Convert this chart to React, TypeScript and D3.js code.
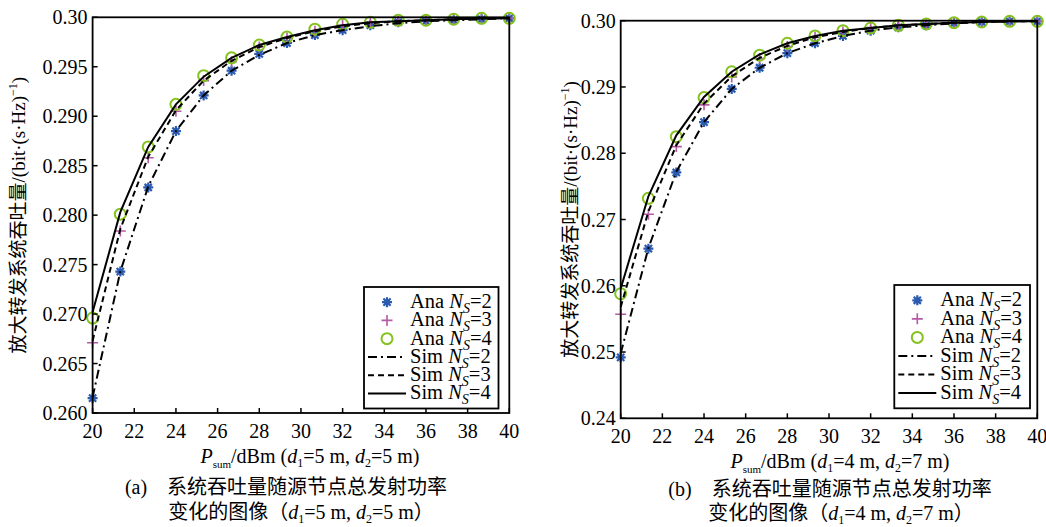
import React from "react";
import * as d3 from "d3";

// x positions of the computed points (P_sum, dBm)
const powerDbm = [20, 21.33, 22.67, 24, 25.33, 26.67, 28, 29.33, 30.67, 32, 33.33, 34.67, 36, 37.33, 38.67, 40];
const xTicks = [20, 22, 24, 26, 28, 30, 32, 34, 36, 38, 40];

// panel (a): d1=5 m, d2=5 m
const anaA2 = [0.2615, 0.2743, 0.2828, 0.2885, 0.2921, 0.2946, 0.2963, 0.2974, 0.2982, 0.2987, 0.2992, 0.2995, 0.2996, 0.2997, 0.2998, 0.2999];
const anaA3 = [0.2671, 0.2784, 0.2858, 0.2905, 0.2936, 0.2955, 0.297, 0.2979, 0.2986, 0.2992, 0.2995, 0.2996, 0.2997, 0.2998, 0.2999, 0.2999];
const anaA4 = [0.2696, 0.2801, 0.2869, 0.2912, 0.2941, 0.2959, 0.2972, 0.298, 0.2988, 0.2993, 0.2995, 0.2997, 0.2997, 0.2998, 0.2999, 0.2999];
const simA2 = [0.2616, 0.2743, 0.2829, 0.2885, 0.2921, 0.2946, 0.2962, 0.2974, 0.2982, 0.2987, 0.2991, 0.2994, 0.2996, 0.2997, 0.2998, 0.2999];
const simA3 = [0.2673, 0.2786, 0.2859, 0.2906, 0.2936, 0.2956, 0.297, 0.2979, 0.2986, 0.2991, 0.2994, 0.2996, 0.2997, 0.2998, 0.2999, 0.2999];
const simA4 = [0.2702, 0.2803, 0.2869, 0.2912, 0.294, 0.2959, 0.2972, 0.298, 0.2987, 0.2992, 0.2995, 0.2996, 0.2997, 0.2998, 0.2999, 0.2999];
const yTicksA = [0.26, 0.265, 0.27, 0.275, 0.28, 0.285, 0.29, 0.295, 0.3];
const yLabelsA = ["0.260", "0.265", "0.270", "0.275", "0.280", "0.285", "0.290", "0.295", "0.30"];

// panel (b): d1=4 m, d2=7 m
const anaB2 = [0.2492, 0.2656, 0.2771, 0.2847, 0.2897, 0.2929, 0.2951, 0.2966, 0.2977, 0.2985, 0.299, 0.2993, 0.2996, 0.2998, 0.2999, 0.2999];
const anaB3 = [0.2557, 0.2708, 0.281, 0.2873, 0.2915, 0.2943, 0.2961, 0.2975, 0.2983, 0.2989, 0.2993, 0.2995, 0.2997, 0.2998, 0.2999, 0.2999];
const anaB4 = [0.2588, 0.2732, 0.2825, 0.2884, 0.2923, 0.2948, 0.2966, 0.2977, 0.2985, 0.2989, 0.2993, 0.2995, 0.2997, 0.2998, 0.2999, 0.2999];
const simB2 = [0.2498, 0.2657, 0.2772, 0.2847, 0.2897, 0.2929, 0.2951, 0.2966, 0.2977, 0.2985, 0.299, 0.2993, 0.2996, 0.2998, 0.2999, 0.2999];
const simB3 = [0.2568, 0.2712, 0.2812, 0.2875, 0.2916, 0.2944, 0.2962, 0.2975, 0.2983, 0.2989, 0.2993, 0.2995, 0.2997, 0.2998, 0.2999, 0.2999];
const simB4 = [0.2596, 0.2735, 0.2827, 0.2885, 0.2923, 0.2949, 0.2966, 0.2977, 0.2985, 0.2989, 0.2993, 0.2995, 0.2997, 0.2998, 0.2999, 0.2999];
const yTicksB = [0.24, 0.25, 0.26, 0.27, 0.28, 0.29, 0.3];
const yLabelsB = ["0.24", "0.25", "0.26", "0.27", "0.28", "0.29", "0.30"];

const nsValues = ["2", "3", "4"];

const FONT = "'Liberation Serif', 'Times New Roman', 'Noto Sans CJK SC', serif";
const BLUE = "#2a5bb0";
const PINK = "#b45aa6";
const GREEN = "#84c21e";
const DASHES = ["9,4,2,4", "6,4", null];

function Marker({ kind, cx, cy }: { kind: number; cx: number; cy: number }) {
  if (kind === 0) {
    const r = 5, a = 3.6;
    return (
      <path
        d={`M${cx},${cy - r}L${cx},${cy + r}M${cx - r},${cy}L${cx + r},${cy}M${cx - a},${cy - a}L${cx + a},${cy + a}M${cx - a},${cy + a}L${cx + a},${cy - a}`}
        stroke={BLUE} strokeWidth={2.2} fill="none"
      />
    );
  }
  if (kind === 1) {
    const r = 5.5;
    return <path d={`M${cx},${cy - r}L${cx},${cy + r}M${cx - r},${cy}L${cx + r},${cy}`} stroke={PINK} strokeWidth={1.6} fill="none" />;
  }
  return <circle cx={cx} cy={cy} r={5.5} stroke={GREEN} strokeWidth={2} fill="none" />;
}

function Ns({ label, n }: { label: string; n: string }) {
  return (
    <>
      {label} <tspan fontStyle="italic">N</tspan>
      <tspan fontStyle="italic" fontSize={14} dy={5}>S</tspan>
      <tspan dy={-5}>={n}</tspan>
    </>
  );
}

type PanelProps = {
  left: number; right: number; top: number; bottom: number;
  yDomain: [number, number]; yTicks: number[]; yLabels: string[];
  ana: number[][]; sim: number[][];
  legend: { x0: number; y0: number; x1: number; y1: number };
  yTitleX: number; tag: string; d1: string; d2: string;
  titleCx: number; cap1Cx: number; cap2Cx: number; cap1Y: number; cap2Y: number;
};

function Panel(p: PanelProps) {
  const x = d3.scaleLinear().domain([20, 40]).range([p.left, p.right]);
  const y = d3.scaleLinear().domain(p.yDomain).range([p.bottom, p.top]);
  const line = d3.line<number>().x((_, i) => x(powerDbm[i])).y((d) => y(d));
  const cy = (p.top + p.bottom) / 2;
  const lg = p.legend;
  const rowH = (lg.y1 - lg.y0 - 12) / 6;
  const mx = lg.x0 + 23;
  return (
    <g fontFamily={FONT} fill="#000">
      {/* marks */}
      {p.ana.map((series, k) =>
        series.map((v, i) => <Marker key={`m${k}-${i}`} kind={k} cx={x(powerDbm[i])} cy={y(v)} />)
      )}
      {p.sim.map((series, k) => (
        <path key={`l${k}`} d={line(series) || ""} fill="none" stroke="#000" strokeWidth={2}
          strokeDasharray={DASHES[k] || undefined} />
      ))}
      {/* frame and ticks */}
      <rect x={p.left} y={p.top} width={p.right - p.left} height={p.bottom - p.top} fill="none" stroke="#000" strokeWidth={1.8} />
      {xTicks.map((t) => (
        <g key={`xt${t}`}>
          <line x1={x(t)} x2={x(t)} y1={p.bottom} y2={p.bottom - 5} stroke="#000" strokeWidth={1.5} />
          <text x={x(t)} y={p.bottom + 25} textAnchor="middle" fontSize={20}>{t}</text>
        </g>
      ))}
      {p.yTicks.map((t, i) => (
        <g key={`yt${t}`}>
          <line x1={p.left} x2={p.left + 5} y1={y(t)} y2={y(t)} stroke="#000" strokeWidth={1.5} />
          <text x={p.left - 5} y={y(t) + 7} textAnchor="end" fontSize={20}>{p.yLabels[i]}</text>
        </g>
      ))}
      {/* legend */}
      <rect x={lg.x0} y={lg.y0} width={lg.x1 - lg.x0} height={lg.y1 - lg.y0} fill="#fff" stroke="#000" strokeWidth={1.8} />
      {nsValues.map((n, k) => {
        const ry = lg.y0 + 6 + rowH * (k + 0.5);
        return (
          <g key={`la${k}`}>
            <Marker kind={k} cx={mx} cy={ry} />
            <text x={lg.x0 + 46} y={ry + 6} fontSize={20.5}><Ns label="Ana" n={n} /></text>
          </g>
        );
      })}
      {nsValues.map((n, k) => {
        const ry = lg.y0 + 6 + rowH * (k + 3.5);
        return (
          <g key={`ls${k}`}>
            <line x1={lg.x0 + 4} x2={lg.x0 + 42} y1={ry} y2={ry} stroke="#000" strokeWidth={2}
              strokeDasharray={DASHES[k] || undefined} />
            <text x={lg.x0 + 46} y={ry + 6} fontSize={20.5}><Ns label="Sim" n={n} /></text>
          </g>
        );
      })}
      {/* y title */}
      <text transform={`translate(${p.yTitleX},${cy}) rotate(-90)`} textAnchor="middle" fontSize={19}>
        放大转发系统吞吐量/(bit·(s·Hz)<tspan fontSize={12} dy={-8}>−1</tspan><tspan dy={8}>)</tspan>
      </text>
      {/* x title */}
      <text x={p.titleCx} y={p.bottom + 50} textAnchor="middle" fontSize={20}>
        <tspan fontStyle="italic">P</tspan>
        <tspan fontSize={11} dy={5}>sum</tspan>
        <tspan dy={-5}>/dBm (</tspan>
        <tspan fontStyle="italic">d</tspan>
        <tspan fontSize={12} dy={4}>1</tspan>
        <tspan dy={-4}>={p.d1} m, </tspan>
        <tspan fontStyle="italic">d</tspan>
        <tspan fontSize={12} dy={4}>2</tspan>
        <tspan dy={-4}>={p.d2} m)</tspan>
      </text>
      {/* caption */}
      <text x={p.cap1Cx} y={p.cap1Y} textAnchor="middle" fontSize={20}>
        ({p.tag}){"\u3000"}系统吞吐量随源节点总发射功率
      </text>
      <text x={p.cap2Cx} y={p.cap2Y} textAnchor="middle" fontSize={20}>
        变化的图像（<tspan fontStyle="italic">d</tspan>
        <tspan fontSize={12} dy={4}>1</tspan>
        <tspan dy={-4}>={p.d1} m, </tspan>
        <tspan fontStyle="italic">d</tspan>
        <tspan fontSize={12} dy={4}>2</tspan>
        <tspan dy={-4}>={p.d2} m）</tspan>
      </text>
    </g>
  );
}

export default function App() {
  return (
    <svg width={1046} height={527} style={{ position: "absolute", left: 0, top: 0, background: "#fff" }}>
      <Panel
        left={92.6} right={509.3} top={17.3} bottom={413}
        yDomain={[0.26, 0.3]} yTicks={yTicksA} yLabels={yLabelsA}
        ana={[anaA2, anaA3, anaA4]} sim={[simA2, simA3, simA4]}
        legend={{ x0: 364, y0: 287, x1: 498.5, y1: 408.5 }}
        yTitleX={25} tag="a" d1="5" d2="5"
        titleCx={310} cap1Cx={286} cap2Cx={301} cap1Y={494} cap2Y={519}
      />
      <Panel
        left={620.7} right={1037.3} top={20.7} bottom={418.3}
        yDomain={[0.24, 0.3]} yTicks={yTicksB} yLabels={yLabelsB}
        ana={[anaB2, anaB3, anaB4]} sim={[simB2, simB3, simB4]}
        legend={{ x0: 894.3, y0: 285, x1: 1030, y1: 408.3 }}
        yTitleX={577} tag="b" d1="4" d2="7"
        titleCx={840} cap1Cx={830} cap2Cx={841} cap1Y={496} cap2Y={520}
      />
    </svg>
  );
}
